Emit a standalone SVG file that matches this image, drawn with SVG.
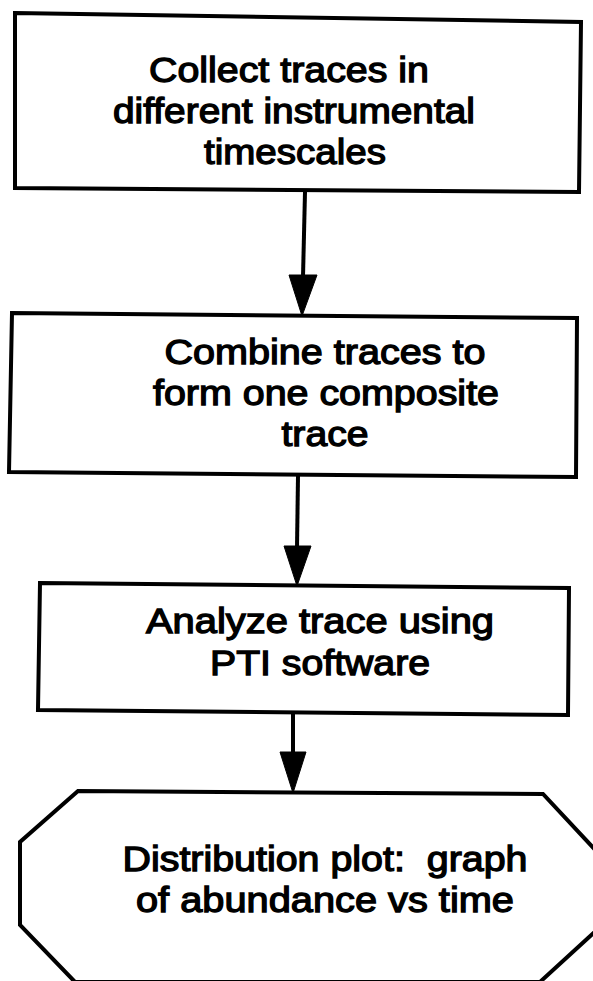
<svg xmlns="http://www.w3.org/2000/svg" width="593" height="981" viewBox="0 0 593 981">
  <style>
    .shape { fill: #ffffff; stroke: #000000; stroke-width: 4; stroke-linejoin: miter; }
    .lbl { font-family: "Liberation Sans", Arial, Helvetica, sans-serif; font-size: 35px; fill: #000000; stroke: #000000; stroke-width: 1.3; text-anchor: middle; }
    .wire { stroke: #000000; stroke-width: 4; fill: none; }
    .head { fill: #000000; stroke: #000000; stroke-width: 1; stroke-linejoin: miter; }
  </style>
  <rect x="0" y="0" width="593" height="981" fill="#ffffff"/>

  <g id="node-collect">
    <polygon class="shape" points="15,13 581,22 579,192 15,188"/>
    <text class="lbl" x="289" y="82" textLength="280" lengthAdjust="spacingAndGlyphs">Collect traces in</text>
    <text class="lbl" x="294" y="123" textLength="362" lengthAdjust="spacingAndGlyphs">different instrumental</text>
    <text class="lbl" x="295" y="164" textLength="182" lengthAdjust="spacingAndGlyphs">timescales</text>
  </g>

  <g id="node-combine">
    <polygon class="shape" points="12,313 577,318 576,477 9,472"/>
    <text class="lbl" x="325" y="364" textLength="321" lengthAdjust="spacingAndGlyphs">Combine traces to</text>
    <text class="lbl" x="326" y="405" textLength="346" lengthAdjust="spacingAndGlyphs">form one composite</text>
    <text class="lbl" x="325" y="446" textLength="87" lengthAdjust="spacingAndGlyphs">trace</text>
  </g>

  <g id="node-analyze">
    <polygon class="shape" points="40,583 569,588 568,715 38,710"/>
    <text class="lbl" x="320" y="633" textLength="348" lengthAdjust="spacingAndGlyphs">Analyze trace using</text>
    <text class="lbl" x="320" y="675" textLength="220" lengthAdjust="spacingAndGlyphs">PTI software</text>
  </g>

  <g id="node-distribution">
    <polygon class="shape" points="78,791 543,794 600,855 600,927 540,982 75,982 20,925 20,842"/>
    <text class="lbl" x="325" y="871" textLength="405" lengthAdjust="spacingAndGlyphs" xml:space="preserve">Distribution plot:  graph</text>
    <text class="lbl" x="325" y="912" textLength="378" lengthAdjust="spacingAndGlyphs">of abundance vs time</text>
  </g>

  <g id="connectors">
    <line class="wire" x1="305" y1="192" x2="303" y2="277"/>
    <polygon class="head" points="289,275 317,275 302,316"/>
    <line class="wire" x1="298" y1="476" x2="297" y2="548"/>
    <polygon class="head" points="284,546 311,546 297,586"/>
    <line class="wire" x1="293" y1="714" x2="293" y2="754"/>
    <polygon class="head" points="280,752 306,752 293,793"/>
  </g>
</svg>
